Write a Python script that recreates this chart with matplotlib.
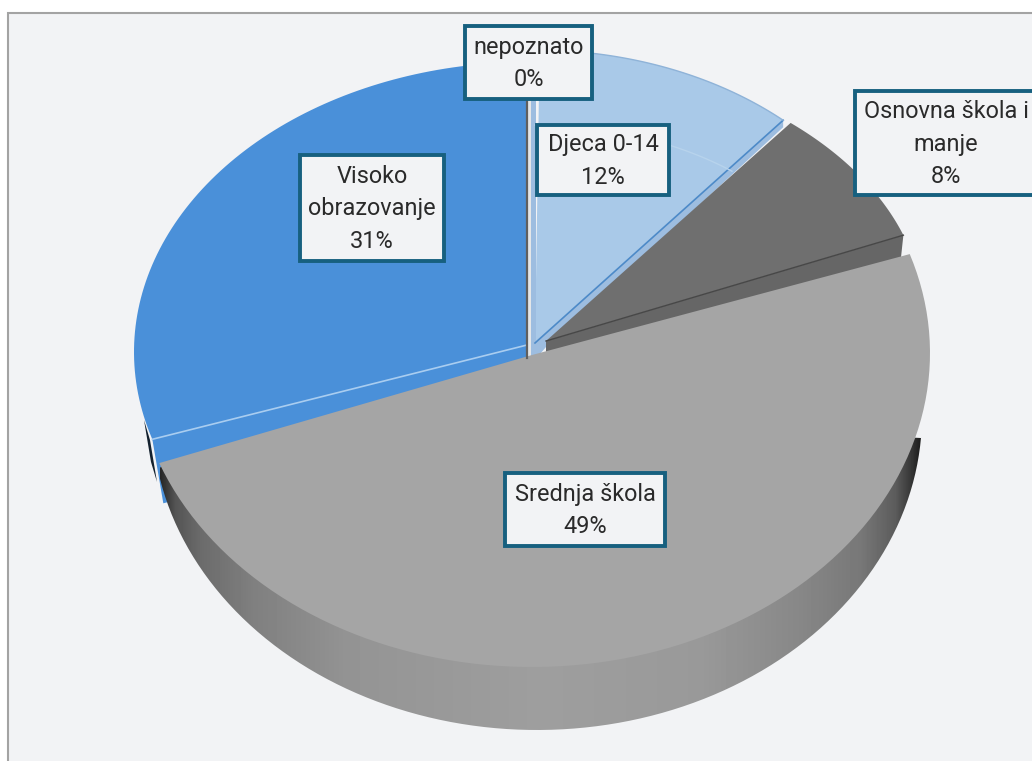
import numpy as np
import matplotlib
matplotlib.use('Agg')
import matplotlib.pyplot as plt
from matplotlib.patches import Rectangle, Polygon

categories = ['nepoznato', 'Djeca 0-14', 'Osnovna škola i\nmanje', 'Srednja škola', 'Visoko\nobrazovanje']
values = [0.2, 11.5, 8.2, 49.4, 30.7]
colors = ['#e4e6e8', '#a9c9e8', '#6f6f6f', '#a5a5a5', '#4a90d9']

# arc of each slice in pixels: centre x, centre y, radius x, radius y
geometry = [(528, 345, 393, 283),
            (535, 322, 370, 272),
            (519, 318, 405, 263),
            (532, 353, 398, 314),
            (529, 352, 395, 290)]
# where the slice comes to a point
apexes = [(528, 345), (535, 343), (546, 341), (532, 355), (527, 345)]

rim_outer = (537, 415, 385, 315)
rim_x = [160, 175, 200, 253, 350, 540, 700, 800, 860, 895, 912, 921]
rim_shade = [0.15, 0.33, 0.42, 0.50, 0.58, 0.62, 0.60, 0.53, 0.47, 0.36, 0.20, 0.10]

label_boxes = [(465, 26, 592, 99),
               (537, 125, 669, 195),
               (855, 91, 1040, 195),
               (505, 473, 665, 546),
               (300, 155, 444, 261)]

plt.rcParams['font.family'] = ['Roboto', 'DejaVu Sans']


def arc(geo, t1, t2, n=100):
    cx, cy, rx, ry = geo
    t = np.radians(np.linspace(t1, t2, n))
    return cx + rx * np.cos(t), cy - ry * np.sin(t)


def point(geo, t):
    x, y = arc(geo, t, t, 1)
    return x[0], y[0]


def wedge(ax, geo, apex, t1, t2, color):
    x, y = arc(geo, t1, t2)
    ax.fill(np.r_[apex[0], x], np.r_[apex[1], y], color=color, lw=0)


fig = plt.figure(figsize=(10.32, 7.61), dpi=100)
ax = fig.add_axes([0, 0, 1, 1])
ax.set_xlim(0, 1032)
ax.set_ylim(761, 0)
ax.axis('off')

ax.add_patch(Rectangle((8, 13), 1040, 760, fc='#f2f3f5', ec='#a3a3a3', lw=1.5))

# angles of the slices, clockwise from the top
edges = 90 - np.cumsum([0] + values) * 3.6
angles = list(zip(edges[:-1], edges[1:]))

# blue slice, with its cut face under the lower edge
geo, apex = geometry[4], apexes[4]
x0, y0 = point(geo, angles[4][0] - 3)
ax.fill([apex[0], x0, x0 + 11, apex[0]], [apex[1], y0, y0 + 64, apex[1] + 63], color=colors[4], lw=0)
wedge(ax, geo, apex, angles[4][0], angles[4][1], colors[4])
ax.fill([144, 150, 157, 151], [420, 440, 482, 462], color='#14212e', lw=0)
ax.plot([apex[0], x0], [apex[1], y0], color='#a9cdf0', lw=1.2)

# light blue slice with its thin cut face
geo, apex = geometry[1], apexes[1]
xa, ya = point(geo, angles[1][1])
ax.fill([apex[0], xa, xa, apex[0] + 11, apex[0]], [apex[1], ya, ya + 7, apex[1] + 4, apex[1] + 17],
        color='#9dbde0', lw=0)
wedge(ax, geo, apex, angles[1][0], angles[1][1], colors[1])
ax.plot([apex[0], xa], [apex[1], ya], color='#4d8ac8', lw=1.2)
xi, yi = arc((apex[0], apex[1], 320, 218), 90, 52)
ax.plot(xi, yi, color='#b7d3ec', lw=1)
xo, yo = arc(geo, angles[1][0], angles[1][1])
ax.plot(xo, yo, color='#8fb3d8', lw=1)

# dark slice with its cut face
geo, apex = geometry[2], apexes[2]
xb, yb = point(geo, angles[2][1])
ax.fill([apex[0], xb, xb - 3, apex[0]], [apex[1], yb, yb + 28, apex[1] + 30], color='#666666', lw=0)
wedge(ax, geo, apex, angles[2][0], angles[2][1], colors[2])
ax.plot([apex[0], xb], [apex[1], yb], color='#474747', lw=1)

# the empty slice is only a thin line between the blue ones
wedge(ax, geometry[0], apexes[0], angles[0][0], angles[0][1], colors[0])
ax.fill([527, 531, 531, 527], [100, 100, 360, 360], color='#e4e6e8', lw=0)
ax.fill([531, 536, 536, 531], [100, 100, 360, 360], color='#9dbde0', lw=0)
ax.plot([527, 527], [100, 358], color='#5f5f5f', lw=1.6)

# grey slice: rim first, then the top face
geo, apex = geometry[3], apexes[3]
xr, yr = arc(rim_outer, 190, 356)
rim_clip = Polygon(np.c_[np.r_[162, xr, 921, 540], np.r_[466, yr, 438, 420]], closed=True, fc='none', ec='none')
ax.add_patch(rim_clip)
xs = np.arange(160, 922)
shade = np.interp(xs, rim_x, rim_shade)
im = ax.imshow(shade[None, :], extent=(160, 922, 740, 400), cmap='gray', vmin=0, vmax=1, aspect='auto', zorder=1)
im.set_clip_path(rim_clip)
wedge(ax, geo, apex, angles[3][0], angles[3][1], colors[3])
ax.set_xlim(0, 1032)
ax.set_ylim(761, 0)

# labels
for name, value, box in zip(categories, values, label_boxes):
    x1, y1, x2, y2 = box
    ax.add_patch(Rectangle((x1, y1), x2 - x1, y2 - y1, fc='#f2f3f5', ec='#17607f', lw=2.8, zorder=5))
    text = f'{name}\n{round(value + 0.01):d}%'
    cx = (x1 + x2) / 2 if x2 <= 1032 else 946
    ax.text(cx, (y1 + y2) / 2 + 1, text, ha='center', va='center', fontsize=16.9, color='#2a2a2a',
            linespacing=1.53, zorder=6)

fig.savefig('out.png', dpi=100)
